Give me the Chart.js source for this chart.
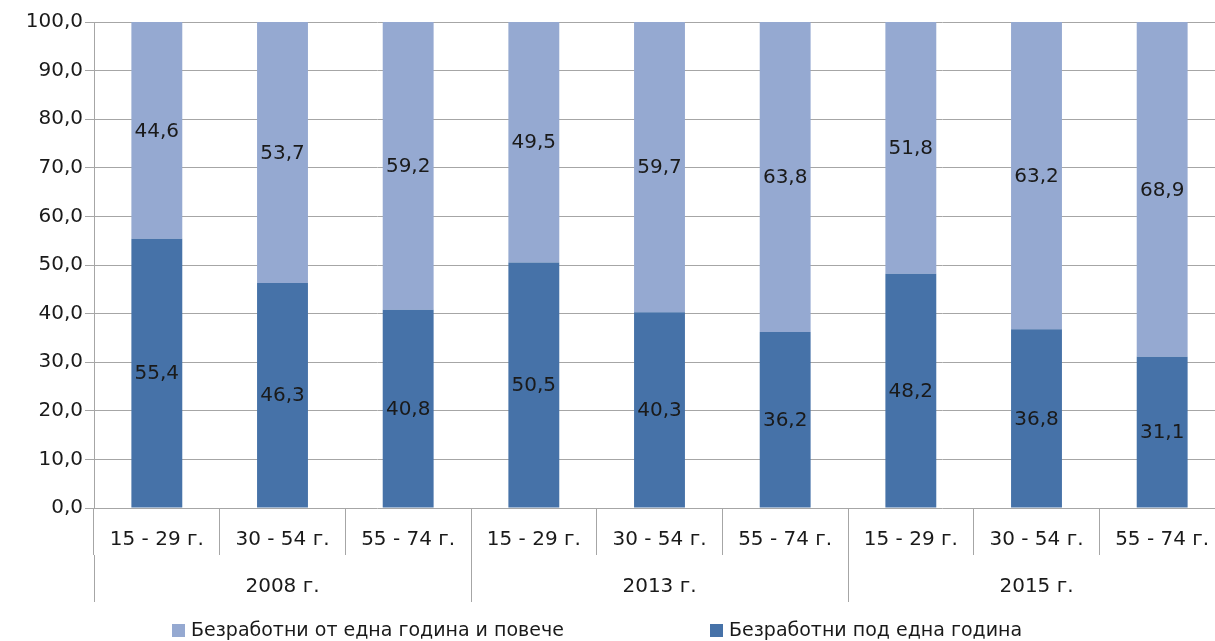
<!DOCTYPE html>
<html>
<head>
<meta charset="utf-8">
<script src="https://cdn.jsdelivr.net/npm/chart.js@4"></script>
<style>
  html, body { margin: 0; padding: 0; background: #fff; overflow: hidden; }
  #wrap { position: relative; width: 1230px; height: 641px; }
  #legend { position: absolute; top: 618px; left: 0; width: 1215px; font: 19px "DejaVu Sans", sans-serif; color: #1a1a1a; white-space: nowrap; }
  #legend span.item { position: absolute; top: 0; }
  #legend i { display: inline-block; width: 13px; height: 13px; margin-right: 6px; vertical-align: -1px; }
</style>
</head>
<body>
<div id="wrap">
  <canvas id="chart"></canvas>
  <div id="legend"></div>
</div>
<script>
const ageGroups = ['15 - 29 г.', '30 - 54 г.', '55 - 74 г.', '15 - 29 г.', '30 - 54 г.', '55 - 74 г.', '15 - 29 г.', '30 - 54 г.', '55 - 74 г.'];
const years = ['2008 г.', '2013 г.', '2015 г.'];
const underOneYear = [55.4, 46.3, 40.8, 50.5, 40.3, 36.2, 48.2, 36.8, 31.1];
const oneYearOrMore = [44.6, 53.7, 59.2, 49.5, 59.7, 63.8, 51.8, 63.2, 68.9];
const yTicks = [0, 10, 20, 30, 40, 50, 60, 70, 80, 90, 100];

const DARK = '#4672A8';
const LIGHT = '#95A9D1';
const GRID = '#a6a6a6';
const FONT = { family: '"DejaVu Sans", sans-serif', size: 20 };

const fmt = v => v.toFixed(1).replace('.', ',');

// value labels in the middle of each stacked segment
const barLabels = {
  id: 'barLabels',
  afterDatasetsDraw(chart) {
    const ctx = chart.ctx;
    ctx.save();
    ctx.font = '20px "DejaVu Sans", sans-serif';
    ctx.fillStyle = '#1a1a1a';
    ctx.textAlign = 'center';
    ctx.textBaseline = 'middle';
    chart.data.datasets.forEach((ds, i) => {
      chart.getDatasetMeta(i).data.forEach((bar, j) => {
        ctx.fillText(fmt(ds.data[j]), bar.x, (bar.y + bar.base) / 2 + 1);
      });
    });
    ctx.restore();
  }
};

new Chart(document.getElementById('chart'), {
  type: 'bar',
  data: {
    labels: ageGroups,
    datasets: [
      { label: 'Безработни под една година', data: underOneYear, backgroundColor: DARK, barPercentage: 0.405, categoryPercentage: 1 },
      { label: 'Безработни от една година и повече', data: oneYearOrMore, backgroundColor: LIGHT, barPercentage: 0.405, categoryPercentage: 1 }
    ]
  },
  options: {
    responsive: true,
    maintainAspectRatio: false,
    animation: false,
    layout: { padding: { top: 22, right: 5, bottom: 39, left: 0 } },
    plugins: { legend: { display: false }, tooltip: { enabled: false } },
    scales: {
      x: {
        stacked: true,
        offset: true,
        grid: { offset: true, drawOnChartArea: false, color: GRID, tickLength: 47 },
        border: { display: false },
        ticks: { color: '#1a1a1a', font: FONT, padding: -27, maxRotation: 0, autoSkip: false },
        afterFit(s) { s.height = 47; }
      },
      x2: {
        type: 'category',
        labels: years,
        position: 'bottom',
        offset: true,
        grid: { offset: true, drawOnChartArea: false, color: GRID, tickLength: 47 },
        border: { display: false },
        ticks: { color: '#1a1a1a', font: FONT, padding: -27, maxRotation: 0 },
        afterFit(s) { s.height = 47; }
      },
      y: {
        stacked: true,
        min: 0,
        max: 100,
        afterBuildTicks(s) { s.ticks = yTicks.map(v => ({ value: v })); },
        grid: { color: GRID, tickLength: 9 },
        border: { color: GRID },
        ticks: { color: '#1a1a1a', font: FONT, padding: 2, callback: v => fmt(v) },
        afterFit(s) { s.width = 94; }
      }
    }
  },
  plugins: [barLabels]
});

const legendItems = [
  { text: 'Безработни от една година и повече', color: LIGHT, left: 172 },
  { text: 'Безработни под една година', color: DARK, left: 710 }
];
document.getElementById('legend').innerHTML = legendItems
  .map(it => `<span class="item" style="left:${it.left}px"><i style="background:${it.color}"></i>${it.text}</span>`)
  .join('');
</script>
</body>
</html>
